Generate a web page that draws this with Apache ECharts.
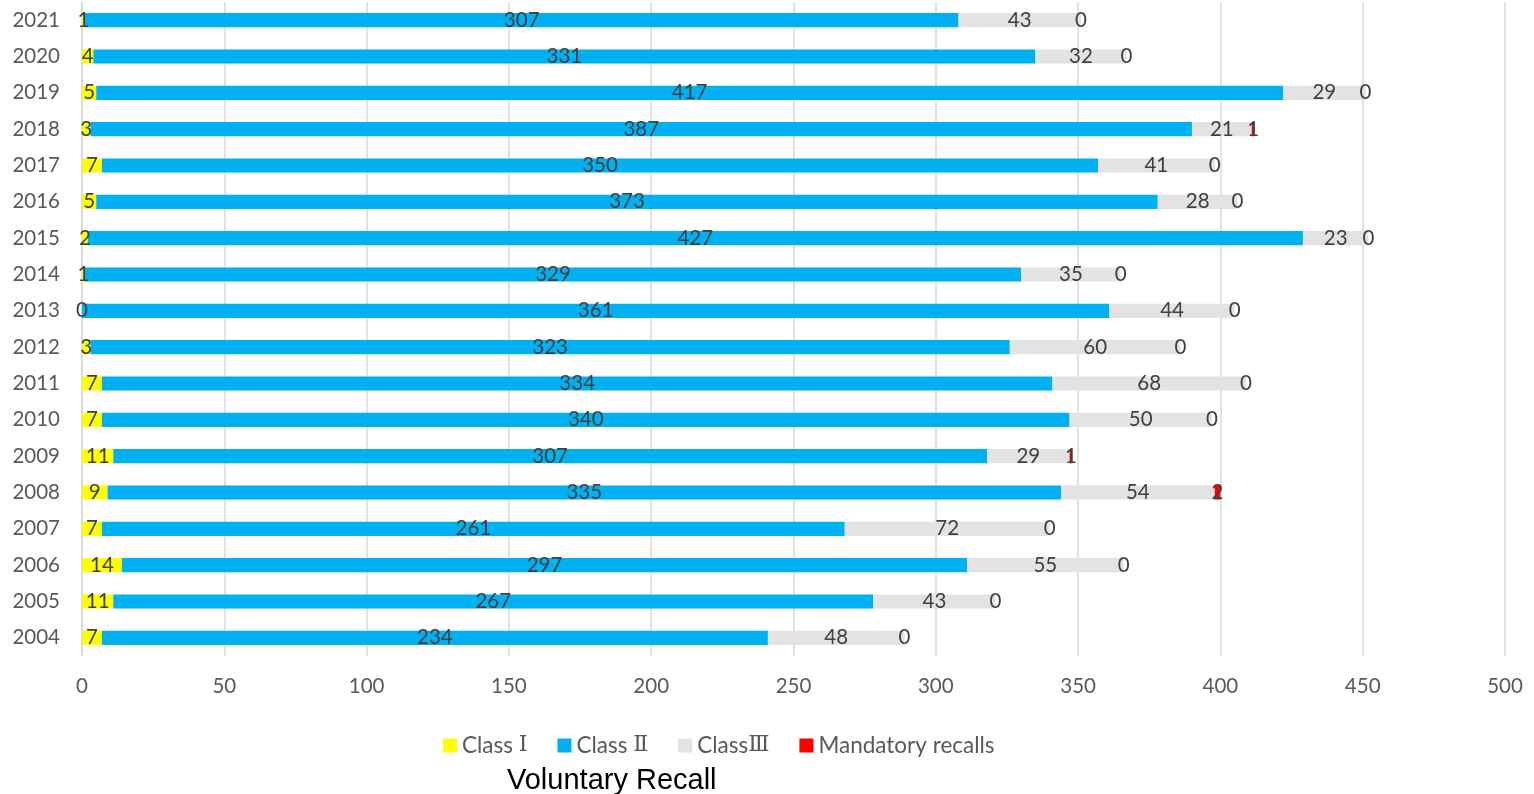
<!DOCTYPE html>
<html>
<head>
<meta charset="utf-8">
<script src="https://cdn.jsdelivr.net/npm/echarts@6/dist/echarts.min.js"></script>
<style>
html, body { margin: 0; padding: 0; background: #fff; }
#chart { width: 1534px; height: 794px; }
</style>
</head>
<body>
<div id="chart"></div>
<script>
const years = ['2004','2005','2006','2007','2008','2009','2010','2011','2012','2013','2014','2015','2016','2017','2018','2019','2020','2021']
const class1 = [7,11,14,7,9,11,7,7,3,0,1,2,5,7,3,5,4,1]
const class2 = [234,267,297,261,335,307,340,334,323,361,329,427,373,350,387,417,331,307]
const class3 = [48,43,55,72,54,29,50,68,60,44,35,23,28,41,21,29,32,43]
const mandatory = [0,0,0,0,2,1,0,0,0,0,0,0,0,0,1,0,0,0]
const xTicks = [0, 500, 50]

const font = 'Lato, "Open Sans", sans-serif'
const mk = (name, data, color) => ({
  name: name,
  type: 'bar',
  stack: 'all',
  data: data,
  barWidth: '39%',
  itemStyle: { color: color },
  label: {
    show: true,
    position: 'inside',
    color: '#404040',
    fontSize: 20.5,
    fontFamily: font
  }
})

let chart = echarts.init(document.getElementById('chart'))
chart.setOption({
  animation: false,
  title: {
    text: 'Voluntary Recall',
    left: 502,
    top: 761,
    textStyle: { fontFamily: '"Liberation Sans", Arial, sans-serif', fontSize: 29, fontWeight: 'normal', color: '#000' }
  },
  legend: {
    top: 729,
    left: 438,
    itemWidth: 14,
    itemHeight: 14,
    itemGap: 30,
    icon: 'rect',
    formatter: function (name) {
      let m = name.match(/^(Class ?)(.+)$/)
      if (m) return m[1] + '{r|' + m[2] + '}'
      return name
    },
    textStyle: {
      fontFamily: font, fontSize: 22.5, color: '#595959',
      rich: { r: { fontFamily: '"DejaVu Serif", serif', fontSize: 22, color: '#595959' } }
    },
    data: ['Class Ⅰ', 'Class Ⅱ', 'ClassⅢ', 'Mandatory recalls']
  },
  grid: { left: 82, right: 29, top: 2, bottom: 138, containLabel: false },
  xAxis: {
    type: 'value',
    min: xTicks[0],
    max: xTicks[1],
    interval: xTicks[2],
    axisLabel: { fontFamily: font, fontSize: 20.5, color: '#595959', margin: 20 },
    splitLine: { lineStyle: { color: '#d9d9d9', width: 1.5 } },
    axisLine: { show: false },
    axisTick: { show: false }
  },
  yAxis: {
    type: 'category',
    data: years,
    axisLabel: { fontFamily: font, fontSize: 20.5, color: '#595959', margin: 22 },
    axisLine: { show: true, lineStyle: { color: '#d9d9d9', width: 1.5 } },
    axisTick: { show: false }
  },
  series: [
    mk('Class Ⅰ', class1, '#ffff00'),
    mk('Class Ⅱ', class2, '#00b0f0'),
    mk('ClassⅢ', class3, '#e3e3e3'),
    mk('Mandatory recalls', mandatory, '#ff0000')
  ]
})
</script>
</body>
</html>
